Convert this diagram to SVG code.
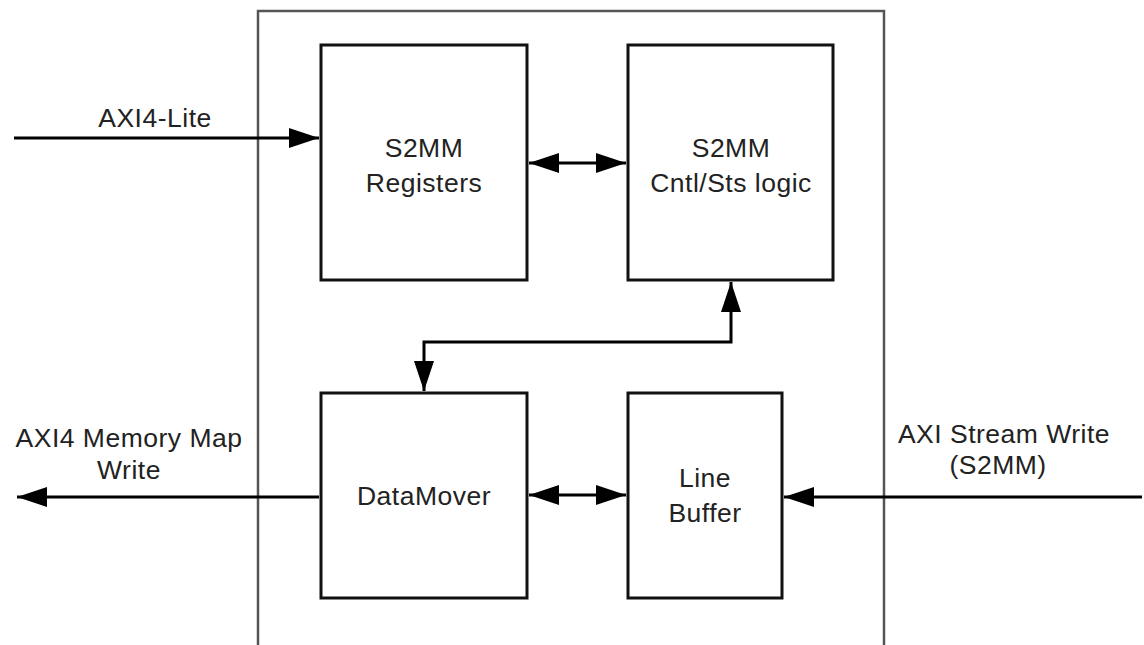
<svg xmlns="http://www.w3.org/2000/svg" width="1144" height="645" viewBox="0 0 1144 645">
<style>
.box{fill:#fff;stroke:#111;stroke-width:3}
.outer{fill:none;stroke:#555;stroke-width:2.5}
.wire{fill:none;stroke:#000;stroke-width:3}
.t{font-family:"Liberation Sans",Arial,sans-serif;font-size:26.5px;letter-spacing:0.5px;fill:#222;text-anchor:middle}
</style>
<defs>
<marker id="ah" markerUnits="userSpaceOnUse" markerWidth="30" markerHeight="20" refX="30" refY="10" orient="auto-start-reverse">
<path d="M0,0 L30,10 L0,20 z" fill="#000"/>
</marker>
</defs>
<path class="outer" d="M258,645 V11 H884 V645"/>
<g id="registers">
<rect class="box" x="321" y="45" width="206" height="235"/>
<text class="t" x="424" y="157">S2MM</text>
<text class="t" x="424" y="192">Registers</text>
</g>
<g id="cntl">
<rect class="box" x="628" y="45" width="205" height="235"/>
<text class="t" x="731" y="157">S2MM</text>
<text class="t" x="731" y="192">Cntl/Sts logic</text>
</g>
<g id="datamover">
<rect class="box" x="321" y="393" width="206" height="205"/>
<text class="t" x="424" y="505">DataMover</text>
</g>
<g id="linebuffer">
<rect class="box" x="628" y="393" width="154" height="205"/>
<text class="t" x="705" y="487">Line</text>
<text class="t" x="705" y="522">Buffer</text>
</g>
<g id="labels">
<text class="t" x="155" y="127">AXI4-Lite</text>
<text class="t" x="129" y="447">AXI4 Memory Map</text>
<text class="t" x="129" y="479">Write</text>
<text class="t" x="1004" y="443">AXI Stream Write</text>
<text class="t" x="998" y="474">(S2MM)</text>
</g>
<g id="connectors">
<path class="wire" d="M14,138 H319" marker-end="url(#ah)"/>
<path class="wire" d="M529,163 H626" marker-start="url(#ah)" marker-end="url(#ah)"/>
<path class="wire" d="M731,282 V342 H424 V391" marker-start="url(#ah)" marker-end="url(#ah)"/>
<path class="wire" d="M319,497 H17" marker-end="url(#ah)"/>
<path class="wire" d="M529,495 H626" marker-start="url(#ah)" marker-end="url(#ah)"/>
<path class="wire" d="M1142,497 H784" marker-end="url(#ah)"/>
</g>
</svg>
